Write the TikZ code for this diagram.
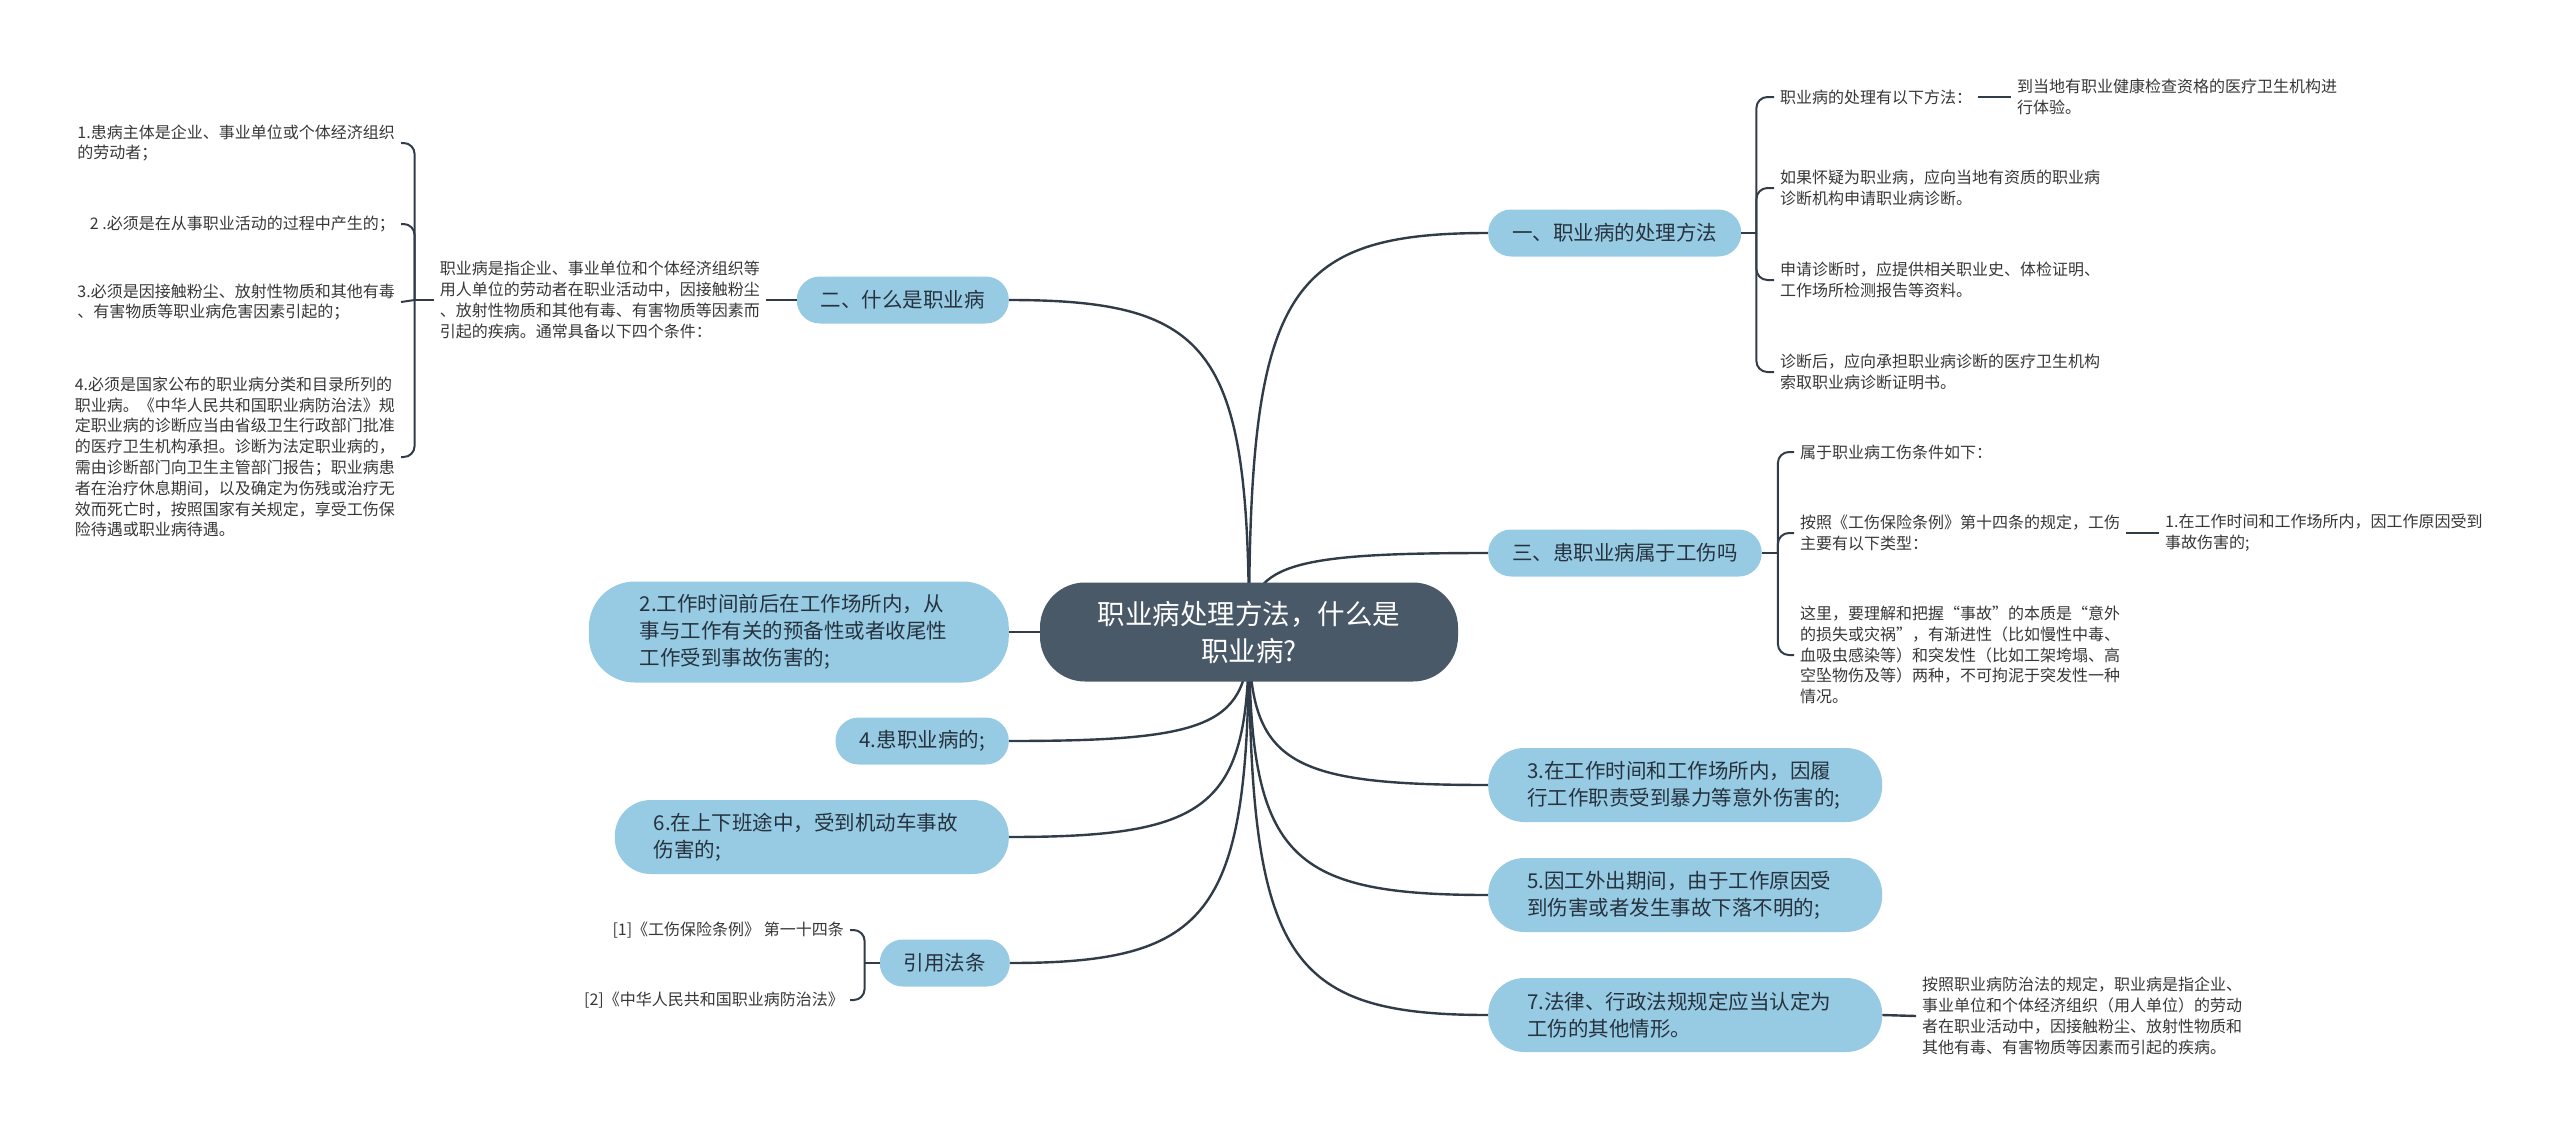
\documentclass[tikz,border=0pt]{standalone}
\usepackage{fontspec}
\setmainfont{Noto Sans CJK SC}
\usetikzlibrary{calc,backgrounds}
\definecolor{rootfill}{RGB}{74,89,104}
\definecolor{topicfill}{RGB}{151,203,227}
\definecolor{topictext}{RGB}{38,50,62}
\definecolor{linecol}{RGB}{48,60,72}
\definecolor{notetext}{RGB}{55,55,55}

\begin{document}
\begin{tikzpicture}[x=1pt,y=-1pt,
 rootbox/.style={fill=rootfill,text=white,rounded corners=45pt,minimum width=418pt,minimum height=99pt,align=center,font=\fontsize{27.5}{37}\selectfont},
 topic/.style={fill=topicfill,text=topictext,rounded corners=23pt,minimum height=47pt,inner xsep=24pt,inner ysep=0pt,font=\fontsize{20.5}{27}\selectfont},
 topicbig/.style={topic,text width=316pt,align=left,inner xsep=39pt,rounded corners=36pt,minimum height=74pt},
 note/.style={text=notetext,align=left,inner xsep=6pt,inner ysep=2pt,font=\fontsize{16}{20.8}\selectfont},
 link/.style={draw=linecol,line width=2.4pt},
 brace/.style={draw=linecol,line width=2pt,rounded corners=11pt}]
 \useasboundingbox (0,0) rectangle (2560,1133);
 \node[rootbox] (root) at (1249,632) {职业病处理方法，什么是\\职业病?};
 \node[topic,anchor=west] (n1) at (1488,233) {一、职业病的处理方法};
 \node[topic,anchor=west] (n3) at (1488,553) {三、患职业病属于工伤吗};
 \node[topic,anchor=east] (n2) at (1009,300) {二、什么是职业病};
 \node[topic,anchor=east] (law) at (1010,963) {引用法条};
 \node[topicbig,anchor=east,text width=318pt,inner xsep=51pt,minimum height=101pt,rounded corners=46pt] (i2) at (1009,632)
 {2.工作时间前后在工作场所内，从\\事与工作有关的预备性或者收尾性\\工作受到事故伤害的;};
 \node[topic,anchor=east] (i4) at (1009,741) {4.患职业病的;};
 \node[topicbig,anchor=east] (i6) at (1009,837) {6.在上下班途中，受到机动车事故\\伤害的;};
 \node[topicbig,anchor=west] (i3) at (1488,785) {3.在工作时间和工作场所内，因履\\行工作职责受到暴力等意外伤害的;};
 \node[topicbig,anchor=west] (i5) at (1488,895) {5.因工外出期间，由于工作原因受\\到伤害或者发生事故下落不明的;};
 \node[topicbig,anchor=west] (i7) at (1488,1015) {7.法律、行政法规规定应当认定为\\工伤的其他情形。};

 \node[note,anchor=west] (t11) at (1774,97) {职业病的处理有以下方法：};
 \node[note,anchor=west] (t11a) at (2011,97) {到当地有职业健康检查资格的医疗卫生机构进\\行体验。};
 \node[note,anchor=west] (t12) at (1774,188) {如果怀疑为职业病，应向当地有资质的职业病\\诊断机构申请职业病诊断。};
 \node[note,anchor=west] (t13) at (1774,280) {申请诊断时，应提供相关职业史、体检证明、\\工作场所检测报告等资料。};
 \node[note,anchor=west] (t14) at (1774,372) {诊断后，应向承担职业病诊断的医疗卫生机构\\索取职业病诊断证明书。};

 \node[note,anchor=west] (t31) at (1794,452) {属于职业病工伤条件如下：};
 \node[note,anchor=west] (t32) at (1794,533) {按照《工伤保险条例》第十四条的规定，工伤\\主要有以下类型：};
 \node[note,anchor=west] (t32a) at (2159,533) {1.在工作时间和工作场所内，因工作原因受到\\事故伤害的;};
 \node[note,anchor=west] (t33) at (1794,655) {这里，要理解和把握“事故”的本质是“意外\\的损失或灾祸”，有渐进性（比如慢性中毒、\\血吸虫感染等）和突发性（比如工架垮塌、高\\空坠物伤及等）两种，不可拘泥于突发性一种\\情况。};

 \node[note,anchor=west] (t7) at (1916,1016) {按照职业病防治法的规定，职业病是指企业、\\事业单位和个体经济组织（用人单位）的劳动\\者在职业活动中，因接触粉尘、放射性物质和\\其他有毒、有害物质等因素而引起的疾病。};

 \node[note,anchor=east] (t2) at (766,300) {职业病是指企业、事业单位和个体经济组织等\\用人单位的劳动者在职业活动中，因接触粉尘\\、放射性物质和其他有毒、有害物质等因素而\\引起的疾病。通常具备以下四个条件：};
 \node[note,anchor=east] (c1) at (401,143) {1.患病主体是企业、事业单位或个体经济组织\\的劳动者；};
 \node[note,anchor=east] (c2) at (401,224) {2 .必须是在从事职业活动的过程中产生的；};
 \node[note,anchor=east] (c3) at (401,302) {3.必须是因接触粉尘、放射性物质和其他有毒\\、有害物质等职业病危害因素引起的；};
 \node[note,anchor=east] (c4) at (401,457) {4.必须是国家公布的职业病分类和目录所列的\\职业病。《中华人民共和国职业病防治法》规\\定职业病的诊断应当由省级卫生行政部门批准\\的医疗卫生机构承担。诊断为法定职业病的，\\需由诊断部门向卫生主管部门报告；职业病患\\者在治疗休息期间，以及确定为伤残或治疗无\\效而死亡时，按照国家有关规定，享受工伤保\\险待遇或职业病待遇。};

 \node[note,anchor=east] (r1) at (850,930) {[1]《工伤保险条例》 第一十四条};
 \node[note,anchor=east] (r2) at (850,1000) {[2]《中华人民共和国职业病防治法》};

 \coordinate (j1) at ([xshift=15pt]n1.east);
 \coordinate (j3) at ([xshift=16pt]n3.east);
 \coordinate (j2) at ([xshift=-19pt]t2.west);
 \coordinate (jl) at ([xshift=-15pt]law.west);

 \begin{scope}[on background layer]
 \foreach \c in {n1,n3,i3,i5,i7}
   \draw[link] let \p1=(root.center), \p2=(\c.west) in
     (\p1) .. controls (\x1,{\y1+0.85*(\y2-\y1)}) and ({\x1+0.15*(\x2-\x1)},\y2) .. (\p2);
 \foreach \c in {n2,i4,i6,law}
   \draw[link] let \p1=(root.center), \p2=(\c.east) in
     (\p1) .. controls (\x1,{\y1+0.85*(\y2-\y1)}) and ({\x1+0.15*(\x2-\x1)},\y2) .. (\p2);
 \end{scope}
 \draw[link] (root.west) -- (i2.east);

 \draw[brace] (n1.east) -- (j1);
 \foreach \c in {t11,t12,t13,t14} \draw[brace] (j1) |- (\c.west);
 \draw[link] (t11.east) -- (t11a.west);

 \draw[brace] (n3.east) -- (j3);
 \foreach \c in {t31,t32,t33} \draw[brace] (j3) |- (\c.west);
 \draw[link] (t32.east) -- (t32a.west);

 \draw[link] (i7.east) -- (t7.west);

 \draw[brace] (n2.west) -- (t2.east);
 \draw[brace] (t2.west) -- (j2);
 \foreach \c in {c1,c2,c4} \draw[brace] (j2) |- (\c.east);
 \draw[brace] (j2) -- (c3.east);

 \draw[brace] (law.west) -- (jl);
 \foreach \c in {r1,r2} \draw[brace] (jl) |- (\c.east);
\end{tikzpicture}
\end{document}
